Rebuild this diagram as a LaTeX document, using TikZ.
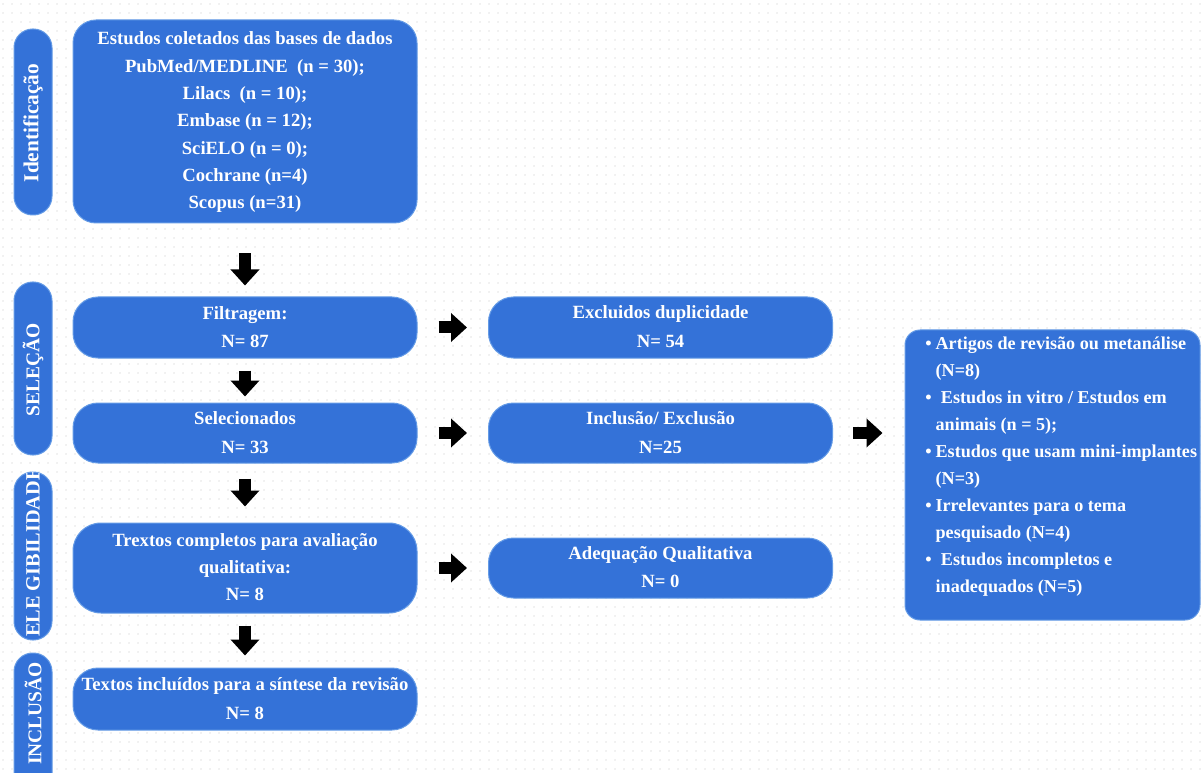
\documentclass[tikz,border=0pt]{standalone}
\usepackage{fontspec}
\setmainfont{Liberation Serif}
\usetikzlibrary{fit,arrows.meta,patterns.meta}
\definecolor{boxblue}{RGB}{52,114,216}
\definecolor{edgeblue}{RGB}{100,155,230}
\definecolor{dotgray}{RGB}{230,230,230}
\tikzdeclarepattern{name=bgdots, type=uncolored,
  bounding box={(0pt,0pt) and (6.75pt,6.375pt)},
  tile size={(6.75pt,6.375pt)},
  code={\fill (3.375pt,3.19pt) circle (0.75pt);}}
\newcommand\boxlines[1]{\begin{tabular}{@{}c@{}}#1\end{tabular}}
\begin{document}
\begin{tikzpicture}[x=0.75pt,y=-0.75pt,
  box/.style={fill=boxblue, draw=edgeblue, line width=0.75pt, inner sep=0pt,
    text=white, font=\bfseries\fontsize{14}{20.5}\selectfont},
  rowbox/.style={box, rounded corners=18.75pt, minimum width=258pt},
  sidepill/.style={fill=boxblue, draw=edgeblue, line width=0.75pt, inner sep=0pt,
    rounded corners=14pt, minimum width=28.5pt},
  sidetext/.style={text=white, rotate=90, inner sep=0pt, font=\bfseries\fontsize{14.6}{16}\selectfont},
  blockarrow/.style={draw=black, line width=9pt, -{Triangle[width=21pt,length=12pt]}}
]
\clip (0,0) rectangle (1202,773);
\fill[white] (0,0) rectangle (1202,773);
\fill[pattern=bgdots, pattern color=dotgray] (0,0) rectangle (1202,773);

% side pills
\node[sidepill, minimum height=139.5pt] (pid) at (33,122) {};
\node[sidepill, minimum height=129.75pt] (psel) at (33,368.5) {};
\node[sidepill, minimum height=126pt] (pele) at (33,556) {};
\node[sidepill, minimum height=110.25pt] (pinc) at (33,726.5) {};
\node[sidetext, font=\bfseries\fontsize{16}{18}\selectfont] (tid) at (33,123) {Identificação};
\node[sidetext] (tsel) at (33,370) {SELEÇÃO};
\begin{scope}
\clip[rounded corners=14pt] (14,472) rectangle (52,640);
\node[sidetext, anchor=west, font=\bfseries\fontsize{15.2}{16}\selectfont] (tele) at (33,637) {ELE GIBILIDADE};
\end{scope}
\node[sidetext, anchor=west] (tinc) at (33,765) {INCLUSÃO};

% left column
\node[rowbox, rounded corners=17.25pt, minimum height=152.25pt] (ident) at (245,121.5)
  {\boxlines{Estudos coletados das bases de dados\\
   PubMed/MEDLINE~ (n = 30);\\
   Lilacs~ (n = 10);\\
   Embase (n = 12);\\
   SciELO (n = 0);\\
   Cochrane (n=4)\\
   Scopus (n=31)}};
\node[rowbox, minimum height=45.75pt, font=\bfseries\fontsize{14}{21}\selectfont] (filt) at (245,327.5)
  {\boxlines{Filtragem:\\ N= 87}};
\node[rowbox, minimum height=45pt, font=\bfseries\fontsize{14}{21.5}\selectfont] (selec) at (245,433)
  {\boxlines{Selecionados\\ N= 33}};
\node[rowbox, rounded corners=21pt, minimum height=67.5pt, font=\bfseries\fontsize{14}{20}\selectfont] (trex) at (245,568)
  {\boxlines{Trextos completos para avaliação\\ qualitativa:\\ N= 8}};
\node[rowbox, minimum height=46.5pt, font=\bfseries\fontsize{14}{21.5}\selectfont] (incl) at (245,699)
  {\boxlines{Textos incluídos para a síntese da revisão\\ N= 8}};

% middle column
\node[rowbox, minimum height=45.75pt, font=\bfseries\fontsize{14}{21.5}\selectfont] (excl) at (660.5,327.5)
  {\boxlines{Excluidos duplicidade\\ N= 54}};
\node[rowbox, minimum height=45pt, font=\bfseries\fontsize{14}{21.5}\selectfont] (inex) at (660.5,433)
  {\boxlines{Inclusão/ Exclusão\\ N=25}};
\node[rowbox, minimum height=45pt, font=\bfseries\fontsize{14}{21}\selectfont] (adeq) at (660.5,568)
  {\boxlines{Adequação Qualitativa\\ N= 0}};

% right list
\node[box, rounded corners=11.25pt, minimum width=221.25pt, minimum height=217.5pt] (list) at (1052.5,475) {};
\node[anchor=west, inner sep=0pt, text=white,
  font=\bfseries\fontsize{13.6}{20.25}\selectfont] (listtxt) at (925,466)
  {\begin{tabular}{@{}l@{\hspace{3pt}}l@{}}
   • & Artigos de revisão ou metanálise\\
     & (N=8)\\
   • & \hspace{4pt}Estudos in vitro / Estudos em\\
     & animais (n = 5);\\
   • & Estudos que usam mini-implantes\\
     & (N=3)\\
   • & Irrelevantes para o tema\\
     & pesquisado (N=4)\\
   • & \hspace{4pt}Estudos incompletos e\\
     & inadequados (N=5)
   \end{tabular}};

% arrows
\draw[blockarrow, shorten <=22.5pt, shorten >=8.25pt] (ident) -- (filt);
\draw[blockarrow, shorten <=9pt, shorten >=4.5pt] (filt) -- (selec);
\draw[blockarrow, shorten <=11.25pt, shorten >=12pt] (selec) -- (trex);
\draw[blockarrow, shorten <=9pt, shorten >=9pt] (trex) -- (incl);
\draw[blockarrow, shorten <=15.75pt, shorten >=15.75pt] (filt) -- (excl);
\draw[blockarrow, shorten <=15.75pt, shorten >=15.75pt] (selec) -- (inex);
\draw[blockarrow, shorten <=15.75pt, shorten >=15.75pt] (trex) -- (adeq);
\draw[blockarrow, shorten <=15pt, shorten >=16.5pt] (inex.east) -- (inex.east -| list.west);
\end{tikzpicture}
\end{document}
